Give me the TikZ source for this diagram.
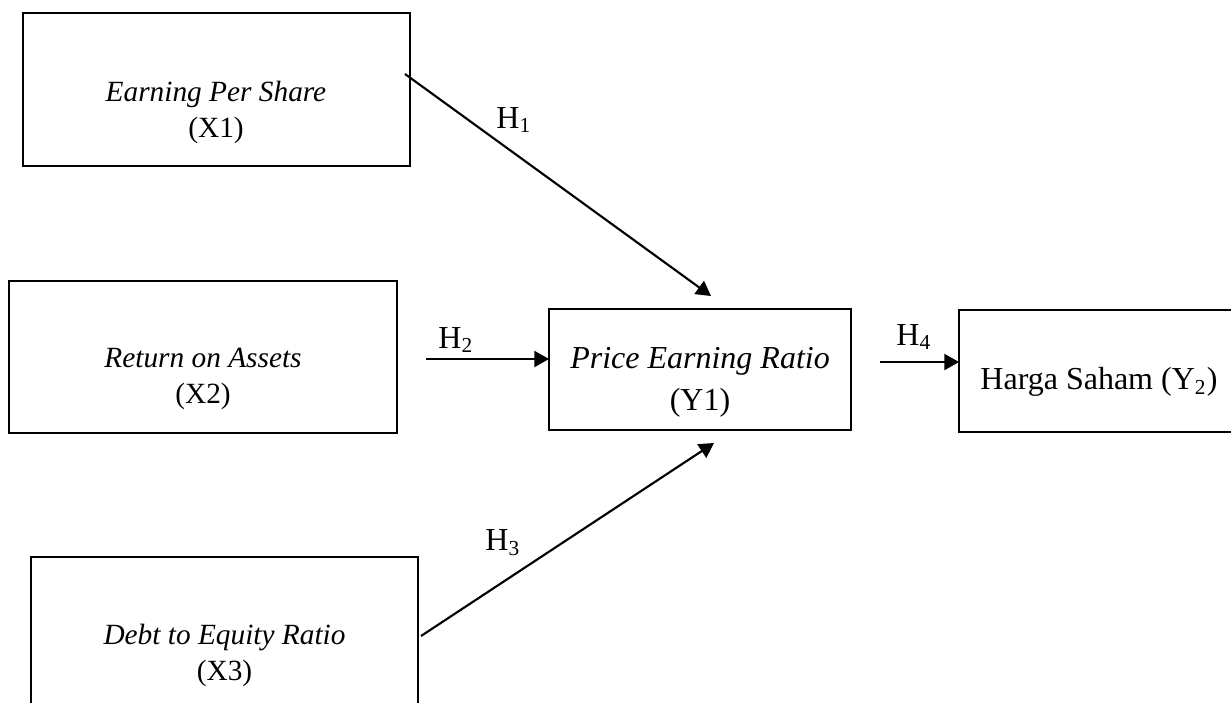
\documentclass[tikz,border=0pt]{standalone}
\usepackage{fontspec}
\setmainfont{Liberation Serif}
\usetikzlibrary{arrows.meta}
\tikzset{
  varbox/.style={draw=black, line width=1.05pt, inner sep=0pt, outer sep=0pt,
                 minimum width={#1}},
  xtext/.style={align=center, font=\fontsize{11}{13.5}\selectfont, inner sep=0pt},
  ytext/.style={align=center, font=\fontsize{12}{15.7}\selectfont, inner sep=0pt},
  hlabel/.style={font=\fontsize{12}{13.6}\selectfont, inner sep=0pt},
  arr/.style={line width=0.8pt, -{Triangle[length=5.5pt, width=6pt]}},
}
\begin{document}
\begin{tikzpicture}[x=0.375pt, y=-0.375pt]
  \useasboundingbox (0,0) rectangle (1231,702);
  \clip (0,0) rectangle (1231,702);

  % variable boxes
  \node[varbox={387*0.375pt}, minimum height={153*0.375pt}] (X1) at (216.5,89.5) {};
  \node[varbox={388*0.375pt}, minimum height={152*0.375pt}] (X2) at (203,357) {};
  \node[varbox={387*0.375pt}, minimum height={153*0.375pt}] (X3) at (224.5,633.5) {};
  \node[varbox={302*0.375pt}, minimum height={121*0.375pt}] (Y1) at (700,369.5) {};
  \node[varbox={281*0.375pt}, minimum height={122*0.375pt}] (Y2) at (1099.5,371) {};

  % box captions
  \node[xtext] (tX1) at (216,112) {\itshape Earning Per Share\\(X1)};
  \node[xtext] (tX2) at (203,378.5) {\itshape Return on Assets\\(X2)};
  \node[xtext] (tX3) at (224.5,655.5) {\itshape Debt to Equity Ratio\\(X3)};
  \node[ytext] (tY1) at (700,382) {\itshape Price Earning Ratio\\(Y1)};
  \node[ytext] (tY2) at (1099,382) {Harga Saham (Y\textsubscript{2})};

  % connector end points
  \coordinate (h1s) at (405,74);
  \coordinate (h1e) at (711,296);
  \coordinate (h2s) at (426,359);
  \coordinate (h2e) at (549,359);
  \coordinate (h3s) at (421,636);
  \coordinate (h3e) at (714,443);
  \coordinate (h4s) at (880,362);
  \coordinate (h4e) at (959,362);

  % hypothesis paths
  \draw[arr] (h1s) -- (h1e);
  \draw[arr] (h2s) -- (h2e);
  \draw[arr] (h3s) -- (h3e);
  \draw[arr] (h4s) -- (h4e);

  % hypothesis labels
  \node[hlabel] (H1) at (514,120) {H\textsubscript{1}};
  \node[hlabel] (H2) at (456,340) {H\textsubscript{2}};
  \node[hlabel] (H3) at (503,543) {H\textsubscript{3}};
  \node[hlabel] (H4) at (914,337) {H\textsubscript{4}};
\end{tikzpicture}
\end{document}
